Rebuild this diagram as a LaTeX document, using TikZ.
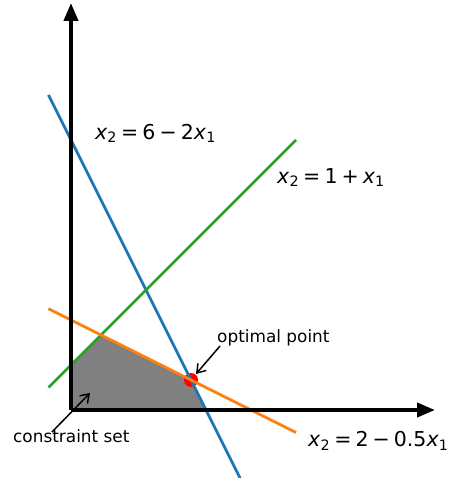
\documentclass[tikz,border=0pt]{standalone}
\usepackage{fontspec}
\setmainfont{DejaVu Sans}
\usetikzlibrary{arrows.meta}
\definecolor{tabblue}{HTML}{1F77B4}
\definecolor{tabgreen}{HTML}{2CA02C}
\definecolor{taborange}{HTML}{FF7F0E}
\newcommand\xvar[1]{\textit{x}\textsubscript{#1}}
\newcommand\ssp{\hspace{0.2em}}
\begin{document}
\begin{tikzpicture}[x=45pt,y=45pt,
  axis/.style={line width=4pt,-{Triangle[width=14pt,length=18pt]}},
  cline/.style={line width=2.8pt},
  eqlabel/.style={anchor=base west,inner sep=0pt,font=\fontsize{20.5}{23}\selectfont},
  annot/.style={anchor=base west,inner sep=0pt,font=\fontsize{16.9}{19}\selectfont},
  annarrow/.style={line width=1.5pt,-{Straight Barb[length=8pt,width=11pt]}}]
\useasboundingbox (-71/45,-68/45) rectangle (381/45,410/45);
\clip (-71/45,-68/45) rectangle (381/45,410/45);
\coordinate (O) at (0,0);
\coordinate (xe) at (364/45,0);
\coordinate (ye) at (0,407/45);
% feasible set
\fill[gray] (0,0) -- (0,1) -- (2/3,5/3) -- (8/3,2/3) -- (3,0) -- cycle;
% optimal point
\fill[red] (8/3,2/3) circle (7pt);
\coordinate (opt) at (8/3,2/3);
% constraint lines
\coordinate (b1) at (-0.5,7);
\coordinate (b2) at (3.9,-1.8);
\coordinate (g1) at (-0.5,0.5);
\coordinate (g2) at (5,6);
\coordinate (o1) at (-0.5,2.25);
\coordinate (o2) at (5,-0.5);
\draw[cline,tabblue] (b1) -- (b2);
\draw[cline,tabgreen] (g1) -- (g2);
\draw[cline,taborange] (o1) -- (o2);
% axes
\draw[axis] (O) -- (xe);
\draw[axis] (O) -- (ye);
% labels
\node[eqlabel] (eq1) at (0.533,6.022) {\xvar{2}\ssp=\ssp6\ssp−\ssp2\xvar{1}};
\node[eqlabel] (eq2) at (4.578,5.044) {\xvar{2}\ssp=\ssp1\ssp+\ssp\xvar{1}};
\node[eqlabel] (eq3) at (5.267,-0.822) {\xvar{2}\ssp=\ssp2\ssp−\ssp0.5\xvar{1}};
\node[annot] (optlab) at (3.244,1.489) {optimal point};
\node[annot] (cslab) at (-1.289,-0.733) {constraint set};
\coordinate (optt) at (3.311,1.422);
\coordinate (opth) at (2.778,0.8);
\coordinate (cst) at (-0.422,-0.489);
\coordinate (csh) at (0.422,0.378);
\draw[annarrow] (optt) -- (opth);
\draw[annarrow] (cst) -- (csh);
\end{tikzpicture}
\end{document}
